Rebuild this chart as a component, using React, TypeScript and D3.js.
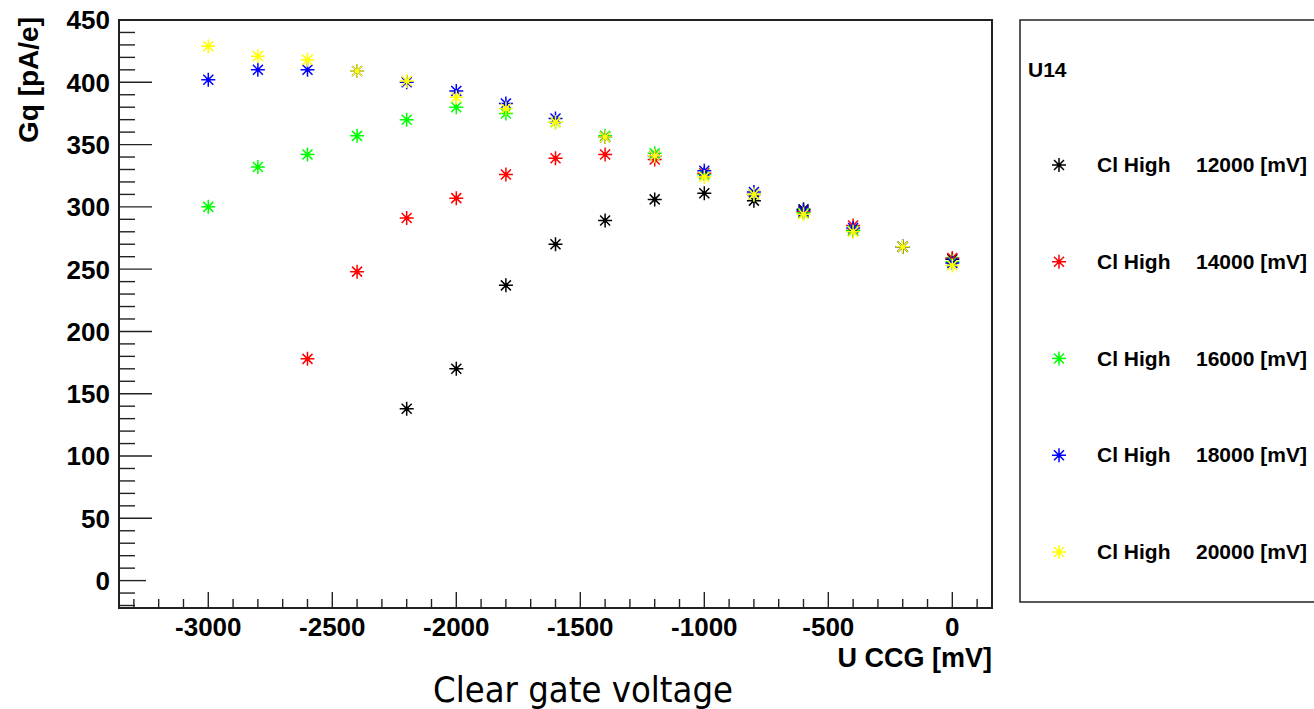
import React, { useEffect, useRef } from 'react';
import * as d3 from 'd3';

// clear gate voltage sweep, one series per clear-high voltage
const voltages = [-3000, -2800, -2600, -2400, -2200, -2000, -1800, -1600, -1400, -1200, -1000, -800, -600, -400, -200, 0];
const clHigh12000 = [null, null, null, null, 138, 170, 237, 270, 289, 306, 311, 305, 298, 281, 268, 258];
const clHigh14000 = [null, null, 178, 248, 291, 307, 326, 339, 342, 338, 327, 310, 296, 285, 268, 259];
const clHigh16000 = [300, 332, 342, 357, 370, 380, 375, 368, 357, 343, 326, 310, 295, 281, 268, 256];
const clHigh18000 = [402, 410, 410, 409, 400, 393, 383, 371, 356, 341, 329, 312, 297, 283, 268, 255];
const clHigh20000 = [429, 421, 418, 409, 401, 388, 379, 368, 356, 341, 324, 310, 294, 280, 268, 253];

const seriesLabels = ['Cl High', 'Cl High', 'Cl High', 'Cl High', 'Cl High'];
const seriesVoltages = ['12000 [mV]', '14000 [mV]', '16000 [mV]', '18000 [mV]', '20000 [mV]'];
const seriesColors = ['#000000', '#ff0000', '#00ff00', '#0000ff', '#ffff00'];

const xTickValues = [-3000, -2500, -2000, -1500, -1000, -500, 0];
const yTickValues = [0, 50, 100, 150, 200, 250, 300, 350, 400, 450];

const W = 1314;
const H = 709;
const FONT = '"Liberation Sans", Arial, Helvetica, sans-serif';

// ROOT style star marker
const starPath = 'M-7,0H7M0,-7V7M-5,-5L5,5M-5,5L5,-5';

const App = () => {
  const svgRef = useRef<SVGSVGElement>(null);

  useEffect(() => {
    const svg = d3.select(svgRef.current);
    svg.selectAll('*').remove();

    const left = 119, top = 20, right = 992, bottom = 608;

    const x = d3.scaleLinear().domain([-3360, 160]).range([left, right]);
    const y = d3.scaleLinear().domain([-22, 450]).range([bottom, top]);

    // minor ticks
    const yMinor = d3.range(-20, 450, 10).filter(v => v % 50 !== 0);
    const xMinor = d3.range(-3300, 160, 100).filter(v => v % 500 !== 0);

    const axes = svg.append('g').attr('stroke', '#222');

    axes.selectAll('.ymin').data(yMinor).join('line')
      .attr('x1', left).attr('x2', left + 16)
      .attr('y1', d => y(d)).attr('y2', d => y(d))
      .attr('stroke-width', 1.4);
    axes.selectAll('.ymaj').data(yTickValues).join('line')
      .attr('x1', left).attr('x2', d => left + (d === 0 ? 27 : 33))
      .attr('y1', d => y(d)).attr('y2', d => y(d))
      .attr('stroke-width', 1.4);

    axes.selectAll('.xmin').data(xMinor).join('line')
      .attr('x1', d => x(d)).attr('x2', d => x(d))
      .attr('y1', bottom).attr('y2', bottom - 9)
      .attr('stroke-width', 1.4);
    axes.selectAll('.xmaj').data(xTickValues).join('line')
      .attr('x1', d => x(d)).attr('x2', d => x(d))
      .attr('y1', bottom).attr('y2', bottom - 16)
      .attr('stroke-width', 1.4);

    // frame
    svg.append('rect')
      .attr('x', left).attr('y', top)
      .attr('width', right - left).attr('height', bottom - top)
      .attr('fill', 'none').attr('stroke', '#222').attr('stroke-width', 2);

    // tick labels
    svg.append('g').selectAll('text').data(yTickValues).join('text')
      .attr('x', 110).attr('y', d => y(d))
      .attr('dy', '0.36em')
      .attr('text-anchor', 'end')
      .attr('font-family', FONT).attr('font-weight', 'bold').attr('font-size', 26)
      .text(d => d3.format('d')(d));

    svg.append('g').selectAll('text').data(xTickValues).join('text')
      .attr('x', d => x(d)).attr('y', 636)
      .attr('text-anchor', 'middle')
      .attr('font-family', FONT).attr('font-weight', 'bold').attr('font-size', 26)
      .text(d => (d < 0 ? '-' : '') + Math.abs(d));

    // axis titles
    svg.append('text')
      .attr('x', right).attr('y', 667)
      .attr('text-anchor', 'end')
      .attr('font-family', FONT).attr('font-weight', 'bold').attr('font-size', 27)
      .text('U CCG [mV]');

    svg.append('text')
      .attr('transform', `translate(38,${top - 3}) rotate(-90)`)
      .attr('text-anchor', 'end')
      .attr('font-family', FONT).attr('font-weight', 'bold').attr('font-size', 28)
      .text('Gq [pA/e]');

    svg.append('text')
      .attr('x', 433).attr('y', 702)
      .attr('font-family', '"DejaVu Sans", Verdana, sans-serif').attr('font-size', 36)
      .attr('textLength', 300).attr('lengthAdjust', 'spacingAndGlyphs')
      .text('Clear gate voltage');

    // points
    const allSeries = [clHigh12000, clHigh14000, clHigh16000, clHigh18000, clHigh20000];
    allSeries.forEach((vals, i) => {
      const pts = voltages.map((v, j) => ({ v, g: vals[j] })).filter(p => p.g != null);
      const g = svg.append('g');
      const m = g.selectAll('g').data(pts).join('g')
        .attr('transform', p => `translate(${x(p.v)},${y(p.g as number)})`);
      m.append('path').attr('d', starPath)
        .attr('stroke', seriesColors[i]).attr('stroke-width', 1.5).attr('fill', 'none');
      m.append('circle').attr('r', 2.2).attr('fill', seriesColors[i]);
    });

    // legend
    const lg = svg.append('g');
    lg.append('rect')
      .attr('x', 1020).attr('y', 20).attr('width', 400).attr('height', 582)
      .attr('fill', 'white').attr('stroke', '#222').attr('stroke-width', 1.5);
    lg.append('text')
      .attr('x', 1028).attr('y', 77)
      .attr('font-family', FONT).attr('font-weight', 'bold').attr('font-size', 21)
      .text('U14');

    const rowY = d3.scaleLinear().domain([0, 4]).range([165, 552]);
    const rows = lg.selectAll('.row').data(seriesLabels).join('g')
      .attr('transform', (_, i) => `translate(0,${rowY(i)})`);
    rows.append('path')
      .attr('transform', 'translate(1059,0)')
      .attr('d', starPath)
      .attr('stroke', (_, i) => seriesColors[i]).attr('stroke-width', 1.5).attr('fill', 'none');
    rows.append('circle')
      .attr('cx', 1059).attr('r', 2.2).attr('fill', (_, i) => seriesColors[i]);
    rows.append('text')
      .attr('x', 1097).attr('y', 7)
      .attr('font-family', FONT).attr('font-weight', 'bold').attr('font-size', 21)
      .text(d => d);
    rows.append('text')
      .attr('x', 1196).attr('y', 7)
      .attr('font-family', FONT).attr('font-weight', 'bold').attr('font-size', 21)
      .text((_, i) => seriesVoltages[i]);
  }, []);

  return (
    <svg
      ref={svgRef}
      width={W}
      height={H}
      style={{ position: 'absolute', left: 0, top: 0, background: 'white' }}
    />
  );
};

export default App;
